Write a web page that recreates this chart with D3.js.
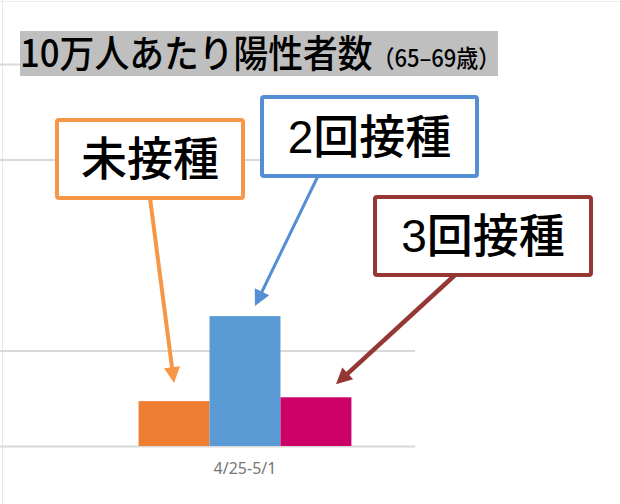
<!DOCTYPE html>
<html>
<head>
<meta charset="utf-8">
<script src="https://cdn.jsdelivr.net/npm/d3@7"></script>
<style>
  html, body { margin: 0; padding: 0; background: #fff; }
  svg { display: block; }
</style>
</head>
<body>
<div id="plot"></div>
<script>
// data (unit: cases per 100k, grid every 100)
const categories = ["4/25-5/1"];
const series = ["未接種", "2回接種", "3回接種"];
const values = [47, 136, 51];
const gridValues = [0, 100, 300, 400];

const barColors = ["#ed7d31", "#5b9bd5", "#cc0066"];
const calloutColors = ["#f79646", "#558ed5", "#953735"];

const width = 620;
const height = 504;
const cjk = '"Noto Sans CJK JP", "Noto Sans", sans-serif';

const svg = d3.select("#plot")
  .append("svg")
  .attr("width", width)
  .attr("height", height);

// faint frame of the pasted screenshot
svg.append("line")
  .attr("x1", 2.5).attr("x2", 2.5).attr("y1", 0).attr("y2", height)
  .attr("stroke", "#e6e6e6").attr("stroke-width", 1);
svg.append("line")
  .attr("x1", 0).attr("x2", width).attr("y1", 1.5).attr("y2", 1.5)
  .attr("stroke", "#ececec").attr("stroke-width", 1);

const plotRight = 415;
const y = d3.scaleLinear().domain([0, 400]).range([446, 64]);

const x0 = d3.scaleBand()
  .domain(categories)
  .range([75, plotRight])
  .padding(0.23);

const x1 = d3.scaleBand()
  .domain(series)
  .range([0, x0.bandwidth()]);

// gridlines
svg.append("g")
  .attr("transform", `translate(${plotRight},0)`)
  .call(d3.axisLeft(y).tickValues(gridValues).tickSize(plotRight).tickFormat(""))
  .call(g => g.select(".domain").remove())
  .call(g => g.selectAll(".tick line")
    .attr("stroke", "#d9d9d9")
    .attr("stroke-width", 2));

// bars
const bars = categories.map(c => series.map((s, i) => ({ cat: c, s, v: values[i], i })));
svg.append("g")
  .selectAll("g")
  .data(bars)
  .join("g")
  .attr("transform", d => `translate(${x0(d[0].cat)},0)`)
  .selectAll("rect")
  .data(d => d)
  .join("rect")
  .attr("x", d => x1(d.s))
  .attr("y", d => y(d.v))
  .attr("width", x1.bandwidth())
  .attr("height", d => y(0) - y(d.v))
  .attr("fill", d => barColors[d.i]);

// category axis
svg.append("g")
  .attr("transform", `translate(0,${y(0)})`)
  .call(d3.axisBottom(x0).tickSize(0).tickPadding(17))
  .call(g => g.select(".domain").remove())
  .call(g => g.selectAll("text")
    .attr("fill", "#767676")
    .style("font-family", '"Noto Sans", sans-serif')
    .style("font-size", "16px"));

// title
svg.append("rect")
  .attr("x", 20).attr("y", 31)
  .attr("width", 478).attr("height", 45)
  .attr("fill", "#bfbfbf");

const title = svg.append("text")
  .attr("transform", "translate(20,67) scale(0.915,1)")
  .attr("fill", "#000")
  .style("font-family", cjk)
  .style("font-weight", 500);
title.append("tspan").style("font-size", "38px").text("10万人あたり陽性者数");
title.append("tspan").style("font-size", "24px").text("（65–69歳）");

// callouts: box layout, arrow start, and tip offset from the bar top
const boxes = [
  { x: 57, y: 120, w: 186, h: 78, sx: 150, sy: 198, dx: 0, dy: -18, sw: 4 },
  { x: 262, y: 97, w: 215, h: 79, sx: 318, sy: 176, dx: 10, dy: -10, sw: 3 },
  { x: 375, y: 197, w: 216, h: 78, sx: 455, sy: 275, dx: 20, dy: -13, sw: 4.5 }
];

const headLen = 16;
const headHalf = 8;

const callouts = series.map((s, i) => {
  const b = boxes[i];
  const tx = x0(categories[0]) + x1(s) + x1.bandwidth() / 2 + b.dx;
  const ty = y(values[i]) + b.dy;
  return { s, i, b, tx, ty };
});

const arrows = svg.append("g");
callouts.forEach(d => {
  const ang = Math.atan2(d.ty - d.b.sy, d.tx - d.b.sx);
  const ux = Math.cos(ang), uy = Math.sin(ang);
  const bx = d.tx - ux * headLen, by = d.ty - uy * headLen;
  arrows.append("line")
    .attr("x1", d.b.sx).attr("y1", d.b.sy)
    .attr("x2", bx + ux * 2).attr("y2", by + uy * 2)
    .attr("stroke", calloutColors[d.i])
    .attr("stroke-width", d.b.sw);
  arrows.append("path")
    .attr("d", `M${d.tx},${d.ty} L${bx - uy * headHalf},${by + ux * headHalf} L${bx + uy * headHalf},${by - ux * headHalf} Z`)
    .attr("fill", calloutColors[d.i]);
});

const labels = svg.append("g")
  .selectAll("g")
  .data(callouts)
  .join("g");

labels.append("rect")
  .attr("x", d => d.b.x)
  .attr("y", d => d.b.y)
  .attr("width", d => d.b.w)
  .attr("height", d => d.b.h)
  .attr("rx", 2)
  .attr("fill", "#fff")
  .attr("stroke", d => calloutColors[d.i])
  .attr("stroke-width", 4);

labels.append("text")
  .attr("x", d => d.b.x + d.b.w / 2)
  .attr("y", d => d.b.y + d.b.h / 2 + 16)
  .attr("text-anchor", "middle")
  .attr("fill", "#000")
  .style("font-family", '"Liberation Sans", "Noto Sans CJK JP", sans-serif')
  .style("font-weight", 500)
  .style("font-size", "46px")
  .text(d => d.s);
</script>
</body>
</html>
